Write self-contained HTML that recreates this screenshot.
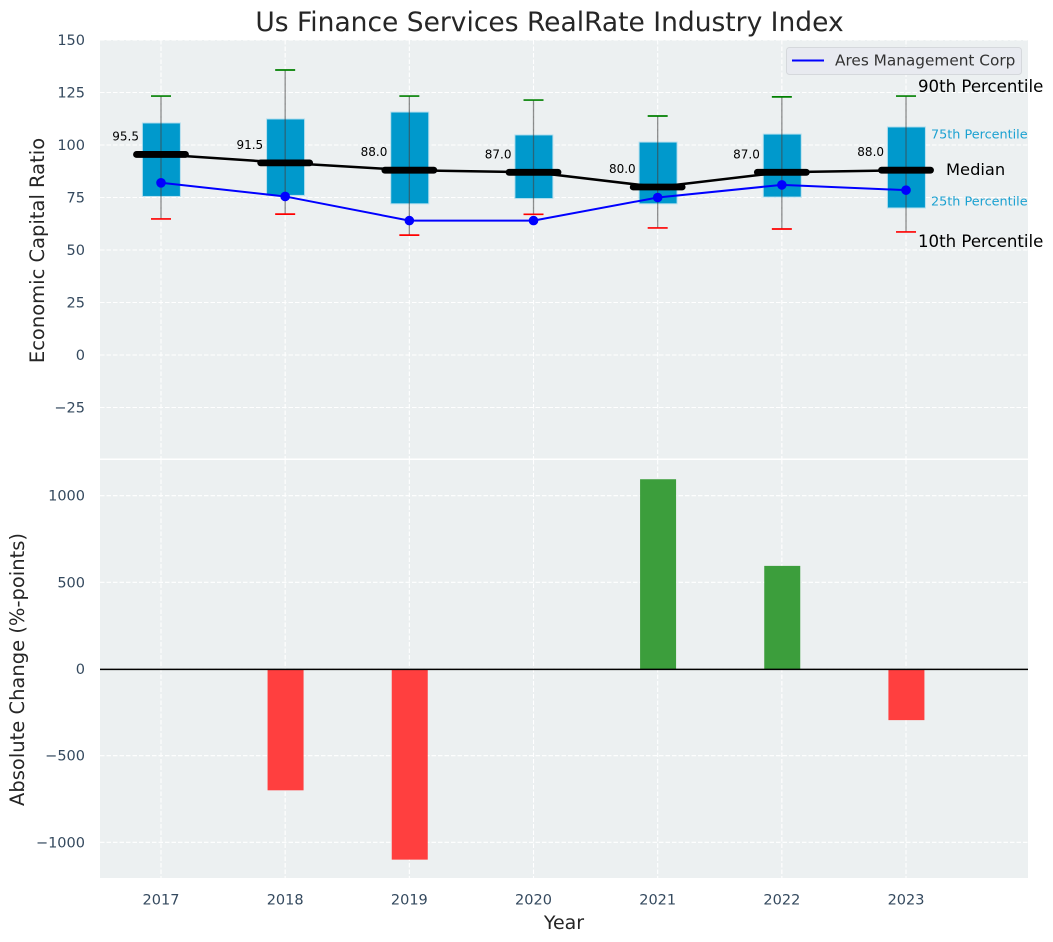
<!DOCTYPE html>
<html>
<head>
<meta charset="utf-8">
<title>Us Finance Services RealRate Industry Index</title>
<style>
html,body{margin:0;padding:0;background:#fff;}
svg{display:block;font-family:"DejaVu Sans","Liberation Sans",sans-serif;}
</style>
</head>
<body>
<svg id="chart" xmlns="http://www.w3.org/2000/svg" width="1053" height="942" viewBox="0 0 1053 942">
  <rect x="0" y="0" width="1053" height="942" fill="#ffffff"/>
  <text x="549.5" y="31" font-size="26.5" text-anchor="middle" fill="#262626">Us Finance Services RealRate Industry Index</text>
  <rect x="100" y="40" width="928" height="418.5" fill="#ecf0f1"/>
  <rect x="100" y="460" width="928" height="418" fill="#ecf0f1"/>
  <g id="grid"></g>
  <g id="bars"></g>
  <line x1="100" x2="1028" y1="669.4" y2="669.4" stroke="#000" stroke-width="1.5"/>
  <g id="boxes"></g>
  <g id="medians"></g>
  <g id="company"></g>
  <g id="ticks"></g>
  <text transform="translate(44,250.5) rotate(-90)" font-size="19.5" text-anchor="middle" fill="#262626">Economic Capital Ratio</text>
  <text transform="translate(24,669.5) rotate(-90)" font-size="19.5" text-anchor="middle" fill="#262626">Absolute Change (%-points)</text>
  <text x="564" y="929" font-size="19" text-anchor="middle" fill="#262626">Year</text>
  <g>
    <rect x="786.5" y="47.5" width="235" height="27" rx="3" fill="#e8eaf0" stroke="#d5d8dc" stroke-width="1"/>
    <line x1="792" x2="824" y1="60.5" y2="60.5" stroke="#0000ff" stroke-width="2"/>
    <text x="835" y="65.5" font-size="15.3" fill="#333333">Ares Management Corp</text>
  </g>
  <g>
    <text x="918" y="92" font-size="16.6" fill="#000">90th Percentile</text>
    <text x="931" y="138.5" font-size="12.8" fill="#1ba1d1">75th Percentile</text>
    <text x="946" y="175" font-size="16.3" fill="#000">Median</text>
    <text x="931" y="205.5" font-size="12.8" fill="#1ba1d1">25th Percentile</text>
    <text x="918" y="247" font-size="16.6" fill="#000">10th Percentile</text>
  </g>
</svg>
<script>
var years = [2017, 2018, 2019, 2020, 2021, 2022, 2023];
var p90 = [123.3, 135.7, 123.3, 121.4, 113.8, 122.9, 123.3];
var p75 = [110.5, 112.4, 115.7, 104.8, 101.4, 105.2, 108.6];
var medians = [95.5, 91.5, 88.0, 87.0, 80.0, 87.0, 88.0];
var p25 = [75.5, 76.0, 72.0, 74.5, 72.0, 75.2, 70.0];
var p10 = [64.8, 67.1, 57.1, 67.0, 60.5, 60.0, 58.6];
var company = [82.0, 75.5, 64.0, 64.0, 75.0, 81.0, 78.5];
var changes = [0, -700, -1100, 0, 1095, 595, -295];
var topTicks = [150, 125, 100, 75, 50, 25, 0, -25];
var bottomTicks = [1000, 500, 0, -500, -1000];

var NS = 'http://www.w3.org/2000/svg';
function sx(v) { return 161 + (v - 2017) * 124.17; }
function syTop(v) { return 355 - v * 2.1; }
function syBot(v) { return 669 - v * 0.1733; }
function mk(parent, tag, attrs) {
  var e = document.createElementNS(NS, tag);
  for (var k in attrs) { e.setAttribute(k, attrs[k]); }
  parent.appendChild(e);
  return e;
}
function fmtTick(v) { return v < 0 ? '\u2212' + Math.abs(v) : String(v); }

var gGrid = document.getElementById('grid');
var gBars = document.getElementById('bars');
var gBoxes = document.getElementById('boxes');
var gMed = document.getElementById('medians');
var gCo = document.getElementById('company');
var gTicks = document.getElementById('ticks');
var dash = '4.5 2';

topTicks.forEach(function (t) {
  var y = syTop(t);
  var l = mk(gGrid, 'line', { x1: 100, x2: 1028, y1: y, y2: y, stroke: '#ffffff', 'stroke-width': 1.1, 'stroke-dasharray': dash });
  
  
  var lab = mk(gTicks, 'text', { x: 85, y: y + 5, 'font-size': 14.5, 'text-anchor': 'end', fill: '#34495e' });
  lab.textContent = fmtTick(t);
  
  
});
bottomTicks.forEach(function (t) {
  var y = syBot(t);
  var l = mk(gGrid, 'line', { x1: 100, x2: 1028, y1: y, y2: y, stroke: '#ffffff', 'stroke-width': 1.1, 'stroke-dasharray': dash });
  
  
  var lab = mk(gTicks, 'text', { x: 85, y: y + 5, 'font-size': 14.5, 'text-anchor': 'end', fill: '#34495e' });
  lab.textContent = fmtTick(t);
  
  
});

years.forEach(function (yr, i) {
  var x = sx(yr);
  var v1 = mk(gGrid, 'line', { x1: x, x2: x, y1: 40, y2: 458.5, stroke: '#ffffff', 'stroke-width': 1.1, 'stroke-dasharray': dash });
  
  
  var v2 = mk(gGrid, 'line', { x1: x, x2: x, y1: 460, y2: 878, stroke: '#ffffff', 'stroke-width': 1.1, 'stroke-dasharray': dash });
  
  

  var lab = mk(gTicks, 'text', { x: x, y: 904.5, 'font-size': 14.5, 'text-anchor': 'middle', fill: '#34495e' });
  lab.textContent = String(yr);
  
  

  var c = changes[i];
  if (c !== 0) {
    var y0 = syBot(0), y1 = syBot(c);
    var bar = mk(gBars, 'rect', { x: x - 17.6, width: 36, y: Math.min(y0, y1), height: Math.abs(y1 - y0), fill: c > 0 ? '#3c9e3c' : '#ff3f3f' });
    
    
  }

  var box = mk(gBoxes, 'rect', { x: x - 18.6, width: 38, y: syTop(p75[i]), height: syTop(p25[i]) - syTop(p75[i]), fill: '#0099cc', stroke: '#b5dfee', 'stroke-width': 1 });
  
  
  var wh = mk(gBoxes, 'line', { x1: x, x2: x, y1: syTop(p90[i]), y2: syTop(p10[i]), stroke: '#444444', 'stroke-width': 1.3, opacity: 0.6 });
  
  
  var capT = mk(gBoxes, 'line', { x1: x - 10, x2: x + 10, y1: syTop(p90[i]), y2: syTop(p90[i]), stroke: '#008000', 'stroke-width': 1.7 });
  
  
  var capB = mk(gBoxes, 'line', { x1: x - 10, x2: x + 10, y1: syTop(p10[i]), y2: syTop(p10[i]), stroke: '#ff0000', 'stroke-width': 1.7 });
  
  

  var m = mk(gMed, 'line', { x1: x - 24.5, x2: x + 24.5, y1: syTop(medians[i]), y2: syTop(medians[i]), stroke: '#000', 'stroke-width': 6.8, 'stroke-linecap': 'round' });
  
  
  var mt = mk(gMed, 'text', { x: x - 22, y: syTop(medians[i]) - 14, 'font-size': 12, 'text-anchor': 'end', fill: '#000' });
  mt.textContent = medians[i].toFixed(1);
  
  
});

var medPts = years.map(function (yr, i) { return sx(yr) + ',' + syTop(medians[i]); }).join(' ');
var medLine = mk(gMed, 'polyline', { points: medPts, fill: 'none', stroke: '#000', 'stroke-width': 2.5 });



var coPts = years.map(function (yr, i) { return sx(yr) + ',' + syTop(company[i]); }).join(' ');
var coLine = mk(gCo, 'polyline', { points: coPts, fill: 'none', stroke: '#0000ff', 'stroke-width': 2 });


years.forEach(function (yr, i) {
  var dot = mk(gCo, 'circle', { cx: sx(yr), cy: syTop(company[i]), r: 4.8, fill: '#0000ff' });
  
  
});
</script>
</body>
</html>
